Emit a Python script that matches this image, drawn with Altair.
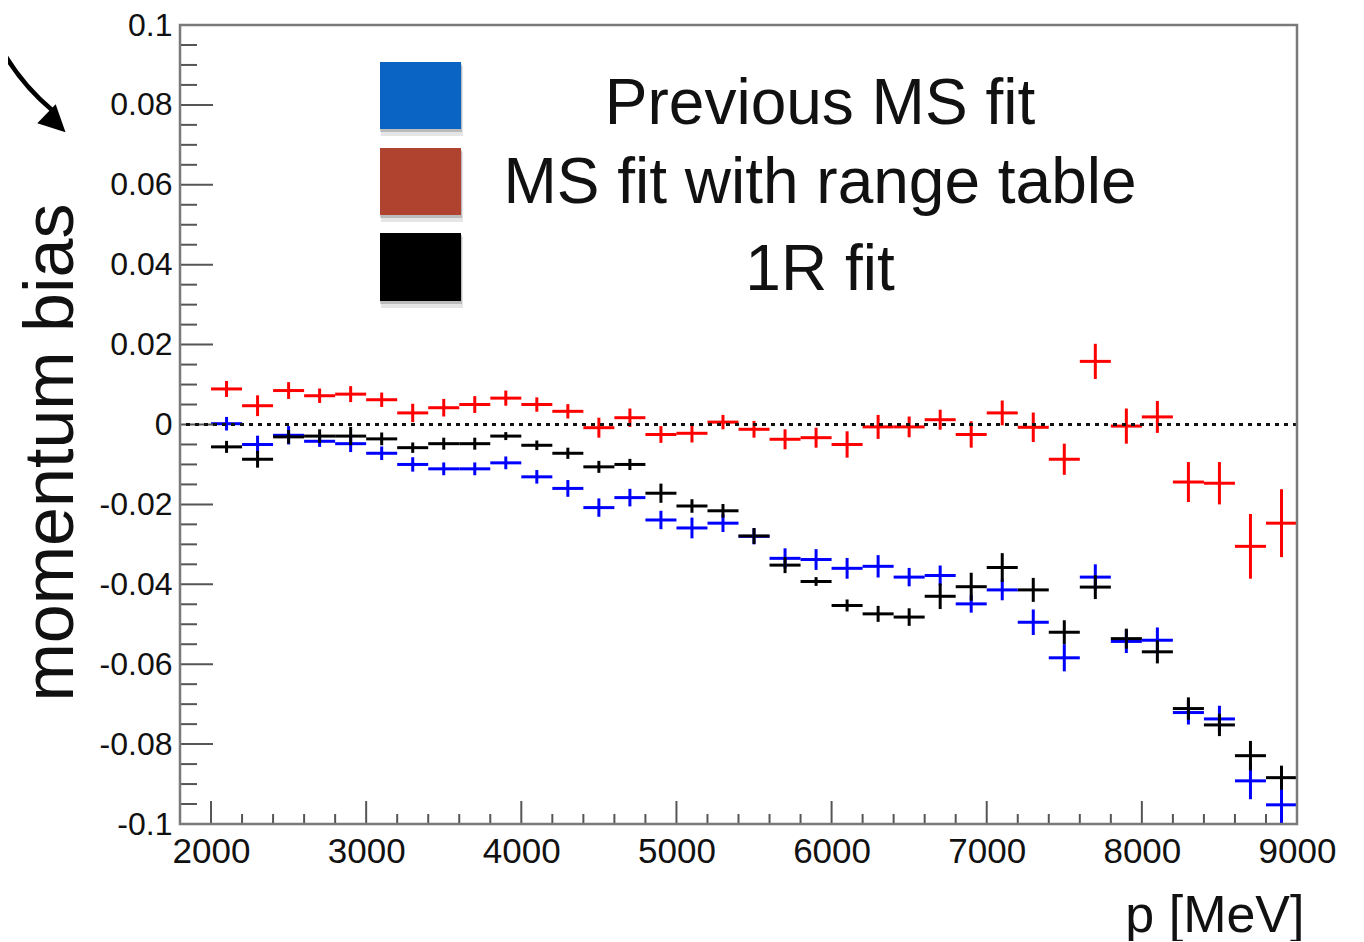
import altair as alt
import pandas as pd

# ---------------- data ----------------
p_centers = [2100, 2300, 2500, 2700, 2900, 3100, 3300, 3500, 3700, 3900,
             4100, 4300, 4500, 4700, 4900, 5100, 5300, 5500, 5700, 5900,
             6100, 6300, 6500, 6700, 6900, 7100, 7300, 7500, 7700, 7900,
             8100, 8300, 8500, 8700, 8900]
bin_half_width = 100

bias_prev_ms = [0.0002, -0.0050, -0.0027, -0.0042, -0.0048, -0.0072, -0.0100, -0.0111, -0.0111, -0.0096,
                -0.0131, -0.0160, -0.0208, -0.0183, -0.0239, -0.0259, -0.0247, -0.0280, -0.0335, -0.0338,
                -0.0360, -0.0355, -0.0382, -0.0378, -0.0449, -0.0414, -0.0495, -0.0584, -0.0382, -0.0543,
                -0.0540, -0.0721, -0.0737, -0.0892, -0.0952]
err_prev_ms = [0.0017, 0.0022, 0.0023, 0.0014, 0.0021, 0.0017, 0.0018, 0.0016, 0.0016, 0.0016,
               0.0017, 0.0021, 0.0023, 0.0022, 0.0023, 0.0026, 0.0022, 0.0020, 0.0025, 0.0026,
               0.0026, 0.0028, 0.0023, 0.0025, 0.0022, 0.0026, 0.0032, 0.0034, 0.0032, 0.0029,
               0.0032, 0.0030, 0.0033, 0.0046, 0.0046]

bias_ms_range = [0.0089, 0.0047, 0.0085, 0.0072, 0.0076, 0.0062, 0.0029, 0.0042, 0.0050, 0.0066,
                 0.0050, 0.0033, -0.0008, 0.0017, -0.0025, -0.0022, 0.0006, -0.0012, -0.0037, -0.0033,
                 -0.0050, -0.0006, -0.0006, 0.0012, -0.0025, 0.0029, -0.0007, -0.0087, 0.0158, -0.0004,
                 0.0019, -0.0144, -0.0147, -0.0305, -0.0247]
err_ms_range = [0.0020, 0.0026, 0.0021, 0.0018, 0.0020, 0.0018, 0.0023, 0.0022, 0.0021, 0.0019,
                0.0018, 0.0018, 0.0025, 0.0023, 0.0021, 0.0023, 0.0018, 0.0021, 0.0025, 0.0025,
                0.0033, 0.0030, 0.0026, 0.0025, 0.0033, 0.0031, 0.0037, 0.0039, 0.0044, 0.0044,
                0.0040, 0.0050, 0.0053, 0.0081, 0.0085]

bias_1r = [-0.0056, -0.0087, -0.0031, -0.0029, -0.0029, -0.0036, -0.0058, -0.0048, -0.0048, -0.0029,
           -0.0052, -0.0072, -0.0106, -0.0100, -0.0172, -0.0204, -0.0216, -0.0279, -0.0352, -0.0393,
           -0.0453, -0.0474, -0.0482, -0.0430, -0.0406, -0.0358, -0.0414, -0.0520, -0.0407, -0.0536,
           -0.0569, -0.0711, -0.0752, -0.0829, -0.0884]
err_1r = [0.0015, 0.0021, 0.0017, 0.0017, 0.0023, 0.0016, 0.0013, 0.0015, 0.0015, 0.0010,
          0.0012, 0.0014, 0.0015, 0.0014, 0.0024, 0.0017, 0.0017, 0.0020, 0.0020, 0.0011,
          0.0015, 0.0020, 0.0022, 0.0032, 0.0035, 0.0036, 0.0030, 0.0030, 0.0030, 0.0025,
          0.0029, 0.0028, 0.0028, 0.0037, 0.0030]

series_names = ["Previous MS fit", "MS fit with range table", "1R fit"]
marker_colors = ["#0000ff", "#ff0000", "#000000"]
legend_colors = ["#0a64c4", "#b0432f", "#000000"]

x_major = [2000, 3000, 4000, 5000, 6000, 7000, 8000, 9000]
x_minor = [v for v in range(1800, 9001, 200) if v % 1000 != 0]
y_major = [-0.1, -0.08, -0.06, -0.04, -0.02, 0, 0.02, 0.04, 0.06, 0.08, 0.1]
y_minor = [round(-0.1 + 0.005 * i, 3) for i in range(41) if i % 4 != 0]

# ---------------- table ----------------
rows = []
for name, vals, errs in [("Previous MS fit", bias_prev_ms, err_prev_ms),
                         ("1R fit", bias_1r, err_1r),
                         ("MS fit with range table", bias_ms_range, err_ms_range)]:
    for p, v, e in zip(p_centers, vals, errs):
        rows.append({"series": name, "p": p, "lo": p - bin_half_width, "hi": p + bin_half_width,
                     "val": v, "low": v - e, "high": v + e})
df = pd.DataFrame(rows)

W, H = 1117, 799
FONT = "Liberation Sans"

xscale = alt.Scale(domain=[1800, 9000], nice=False, zero=False)
yscale = alt.Scale(domain=[-0.1, 0.1], nice=False, zero=False)
cscale = alt.Scale(domain=series_names, range=marker_colors)

xaxis = alt.Axis(values=x_major, format="d", labelFontSize=35, labelFont=FONT, labelColor="#111",
                 labelPadding=10, labelFlush=False, labelOverlap=False,
                 ticks=False, domain=False, grid=False,
                 title="p [MeV]", titleFont=FONT, titleFontSize=52, titleFontWeight="normal",
                 titleColor="#111", titleX=1124, titleY=107, titleAlign="right",
                 titleBaseline="alphabetic")
yaxis = alt.Axis(values=y_major, labelExpr="toString(datum.value)", labelFontSize=32, labelFont=FONT,
                 labelColor="#111", labelPadding=8, labelFlush=False, labelOverlap=False,
                 ticks=False, domain=False, grid=False,
                 title="momentum bias", titleFont=FONT, titleFontSize=70, titleFontWeight="normal",
                 titleColor="#111", titleAngle=270, titleX=-108, titleY=427, titleAlign="center",
                 titleBaseline="alphabetic")


def X(field):
    return alt.X(field, scale=xscale, axis=xaxis)


def Y(field):
    return alt.Y(field, scale=yscale, axis=yaxis)


base = alt.Chart(df)
hbars = base.mark_rule(strokeWidth=3, clip=True).encode(
    x=X("lo:Q"), x2="hi:Q", y=Y("val:Q"),
    color=alt.Color("series:N", scale=cscale, legend=None),
)
vbars = base.mark_rule(strokeWidth=3, clip=True).encode(
    x=X("p:Q"), y=Y("low:Q"), y2="high:Q",
    color=alt.Color("series:N", scale=cscale, legend=None),
)

zero_line = alt.Chart(pd.DataFrame({"zero": [0]})).mark_rule(
    strokeDash=[4, 5], strokeWidth=3, color="#111").encode(y=Y("zero:Q"))

tick_color = "#555"
y_major_ticks = alt.Chart(pd.DataFrame({"v": y_major})).mark_rule(color=tick_color, strokeWidth=2).encode(
    y=Y("v:Q"), x=alt.value(0), x2=alt.value(33))
y_minor_ticks = alt.Chart(pd.DataFrame({"v": y_minor})).mark_rule(color=tick_color, strokeWidth=2).encode(
    y=Y("v:Q"), x=alt.value(0), x2=alt.value(17))
x_major_ticks = alt.Chart(pd.DataFrame({"v": x_major})).mark_rule(color=tick_color, strokeWidth=2).encode(
    x=X("v:Q"), y=alt.value(H), y2=alt.value(H - 23))
x_minor_ticks = alt.Chart(pd.DataFrame({"v": x_minor})).mark_rule(color=tick_color, strokeWidth=2).encode(
    x=X("v:Q"), y=alt.value(H), y2=alt.value(H - 10))

# frame around the plot area
frame = alt.Chart(pd.DataFrame({"k": [0]})).mark_rect(
    fill=None, stroke="#7a7a7a", strokeWidth=2.5).encode(
    x=alt.value(0), x2=alt.value(W), y=alt.value(0), y2=alt.value(H))

# ---------------- legend (drawn as marks) ----------------
legend_layers = []
sq_top = [37, 123, 208]
sq_bottom = [104, 190, 276]
text_base = [99, 178, 265]
for i, name in enumerate(series_names):
    one = pd.DataFrame({"label": [name]})
    legend_layers.append(alt.Chart(one).mark_rect(color="#000", opacity=0.10).encode(
        x=alt.value(201), x2=alt.value(283), y=alt.value(sq_top[i] + 4), y2=alt.value(sq_bottom[i] + 7)))
    legend_layers.append(alt.Chart(one).mark_rect(color="#000", opacity=0.18).encode(
        x=alt.value(200), x2=alt.value(282), y=alt.value(sq_top[i] + 2), y2=alt.value(sq_bottom[i] + 3)))
    legend_layers.append(alt.Chart(one).mark_rect(color=legend_colors[i]).encode(
        x=alt.value(200), x2=alt.value(281), y=alt.value(sq_top[i]), y2=alt.value(sq_bottom[i])))
    legend_layers.append(alt.Chart(one).mark_text(
        font=FONT, fontSize=64, align="center", baseline="alphabetic", color="#111").encode(
        x=alt.value(640), y=alt.value(text_base[i]), text="label:N"))

# ---------------- curved arrow annotation (top left) ----------------
arrow_df = pd.DataFrame({"k": [0]})
arrow_arc = alt.Chart(arrow_df).mark_arc(innerRadius=222, outerRadius=226.5,
                                         theta=3.84, theta2=4.40, color="#000").encode(
    x=alt.value(17), y=alt.value(-86))
arrow_head = alt.Chart(arrow_df).mark_point(shape="M0,-1L1,1L-1,1Z", filled=True, size=700,
                                            angle=134, color="#000", opacity=1).encode(
    x=alt.value(-124), y=alt.value(98))

chart = alt.layer(
    hbars, vbars, y_minor_ticks, y_major_ticks, x_minor_ticks, x_major_ticks, zero_line,
    frame, *legend_layers, arrow_arc, arrow_head
).properties(
    width=W, height=H,
    autosize=alt.AutoSizeParams(type="none"),
    padding={"left": 172, "top": 17, "right": 50, "bottom": 117},
).configure_view(
    stroke=None
).configure(background="white")

chart.save("out.html", embed_options={"renderer": "svg", "actions": False})
